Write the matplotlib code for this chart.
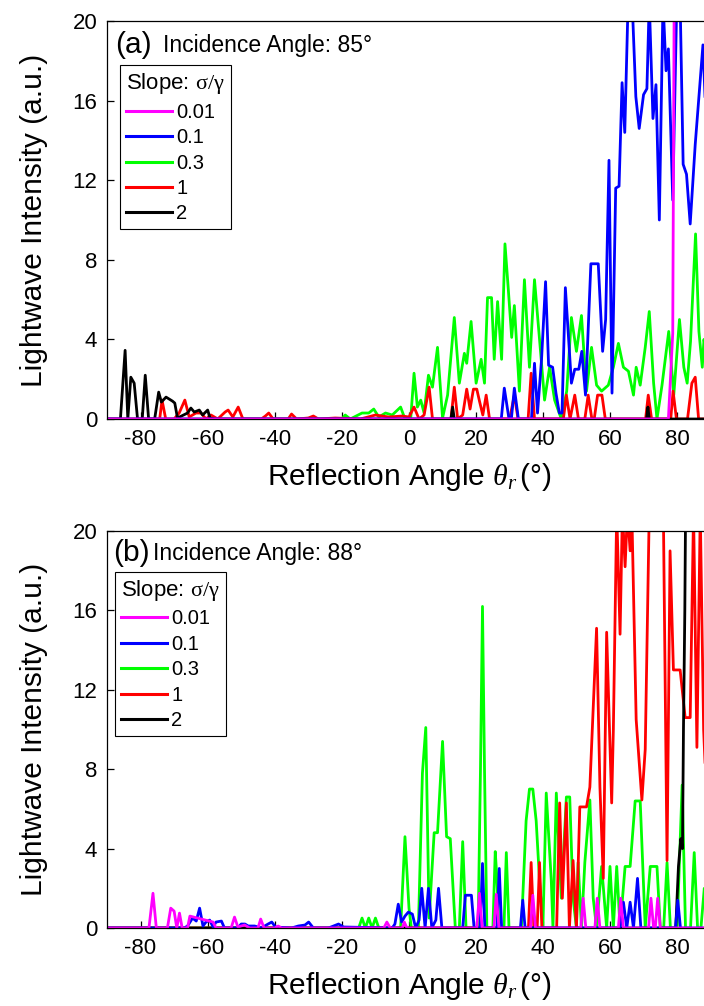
import matplotlib
matplotlib.use("Agg")
import matplotlib.pyplot as plt

plt.rcParams["font.family"] = ["Liberation Sans", "DejaVu Sans"]
plt.rcParams["mathtext.fontset"] = "custom"
plt.rcParams["mathtext.rm"] = "Liberation Serif"
plt.rcParams["mathtext.it"] = "Liberation Serif:italic"
plt.rcParams["axes.unicode_minus"] = False

SLOPES = ["0.01", "0.1", "0.3", "1", "2"]
COLORS = {"0.01": "#ff00ff", "0.1": "#0000ff", "0.3": "#00ff00", "1": "#ff0000", "2": "#000000"}
XTICKS = [-80, -60, -40, -20, 0, 20, 40, 60, 80]
YTICKS = [0, 4, 8, 12, 16, 20]

# ---- panel (a): incidence angle 85 deg ----
a_001_x = [-90, 77.3, 78.6, 80, 90]
a_001_y = [0, 0, 4.3, 60, 60]

a_01_x = [-90, 27.5, 28.4, 29.8, 30.5, 31.4, 32.6, 36.5, 37.4, 38.3, 39.5, 40.7, 41.6, 42.8,
          43.8, 44.8, 45.6, 46.6, 48.4, 49.4, 50.6, 51.5, 52.6, 54.2, 56.4, 57.7, 58.6, 59.6,
          60.5, 61.6, 62.6, 63.5, 64.3, 65.3, 66.5, 67.6, 68.6, 69.9, 70.9, 71.6, 72.7, 73.6,
          74.6, 75.7, 76.6, 77.3, 78.6, 79.8, 80.8, 81.7, 82.7, 83.8, 85.3, 87.6, 88.5, 90]
a_01_y = [0, 0, 1.55, 0, 0, 1.55, 0, 0, 2.8, 0.3, 3.0, 6.9, 2.7, 2.6,
          1.3, 0.3, 0.3, 6.6, 1.8, 2.5, 2.5, 3.4, 1.2, 7.8, 7.8, 3.4, 5.0, 13.0,
          1.3, 11.6, 11.7, 16.9, 14.4, 21, 21, 16.2, 14.6, 16.3, 16.6, 21, 15.1, 16.8,
          10.0, 21, 17.5, 18.6, 11.0, 21, 21, 12.8, 12.3, 9.8, 13.8, 18.8, 15, 12]

a_03_x = [-90, -20, -19, -17.5, -14, -12, -10.5, -9, -7, -5, -2.5, -1.2, 0.5, 1.5, 2.5, 3.5,
          4.5, 5.8, 7.0, 8.5, 10.0, 11.5, 13.5, 15.0, 16.5, 17.2, 18.5, 20, 21.5, 22.5, 23.4,
          24.6, 25.4, 26.4, 27.6, 28.6, 29.6, 30.6, 31.4, 32.9, 34.4, 35.9, 37.4, 38.9, 40.4,
          41.9, 43.4, 45.4, 47, 48.4, 49.9, 51.4, 52.9, 54.4, 55.9, 57.4, 59.4, 60.9, 62.4,
          63.9, 65.4, 66.9, 67.7, 68.9, 70.4, 71.6, 72.9, 73.9, 75.4, 77.4, 78.9, 80.6, 81.9,
          82.9, 83.9, 85.4, 86.4, 87.4, 87.9, 89, 90]
a_03_y = [0, 0, 0.2, 0, 0.3, 0.3, 0.5, 0.1, 0.3, 0.2, 0.6, 0, 0, 2.3, 0.6, 0.95,
          0.3, 2.2, 1.6, 3.6, 0.05, 1.2, 5.1, 1.8, 3.3, 2.8, 4.9, 1.8, 3.0, 1.8, 6.1,
          6.1, 3.0, 5.9, 3.0, 8.8, 6.5, 4.1, 5.7, 1.4, 7.0, 2.6, 7.0, 4.0, 0.95,
          2.6, 0.95, 0, 1.4, 5.1, 3.4, 5.2, 1.4, 3.6, 1.7, 1.4, 1.7, 2.6, 3.8,
          2.6, 2.4, 1.2, 2.6, 1.7, 3.6, 5.4, 1.8, 0, 1.7, 4.4, 1.2, 5.0, 2.6,
          1.8, 3.9, 9.3, 4.4, 2.6, 4.0, 2.8, 3.5]

a_1_x = [-90, -74.3, -73.6, -72.5, -70, -68.5, -66.8, -65.5, -63.5, -62, -60.5, -59, -57,
         -54.8, -53.9, -52.5, -50.9, -49.5, -44, -42.8, -41.8, -40.5, -36, -35, -33.5, -30,
         -28.5, -27, -22, -14.5, -10, -6, -2, 0, 1.5, 3, 4.5, 6, 7, 12.5, 13.5, 14.5, 16,
         17.2, 18.2, 19.2, 20.2, 21, 22, 23, 24, 30, 31.4, 32.5, 35.5, 36.4, 37.4, 46, 46.9,
         48, 49.4, 50.5, 52.4, 53.4, 54.5, 55.2, 56.2, 57.5, 58.5, 70.5, 71.3, 72.3, 78,
         78.7, 79.7, 83, 84.3, 85.3, 86.3, 90]
a_1_y = [0, 0, 0.95, 0, 0, 0.3, 0.95, 0.1, 0.3, 0.3, 0, 0.2, 0,
         0.35, 0.45, 0.1, 0.6, 0, 0, 0.15, 0.3, 0, 0, 0.25, 0, 0.05,
         0.15, 0, 0.05, 0, 0.2, 0.1, 0.15, 0.1, 0.6, 0, 0.2, 1.6, 0, 0, 1.6, 0, 0.2,
         1.5, 0.5, 1.5, 1.5, 0.9, 0.2, 1.2, 0, 0, 1.2, 0, 0, 2.3, 0, 0, 1.2,
         0, 1.2, 0, 0, 1.2, 0, 0, 1.2, 1.2, 0, 0, 1.2, 0, 0,
         1.4, 0, 0, 1.8, 2.1, 0, 0]

a_2_x = [-90, -86, -84.6, -83.8, -82.9, -81.9, -80.9, -79.5, -78.6, -77.6, -75.8, -74.6,
         -73.8, -72.4, -70.5, -69.8, -69.0, -66, -65, -64, -62.5, -61.5, -60, -59.3, -58,
         12.5, 13, 13.5, 70.8, 71.2, 71.6, 90]
a_2_y = [0, 0, 3.45, 0, 2.1, 1.8, 0, 0, 2.2, 0, 0, 1.35,
         0.85, 1.1, 0.9, 0.8, 0.05, 0.3, 0.55, 0.35, 0.45, 0.2, 0.45, 0.05, 0,
         0, 0.6, 0, 0, 0.6, 0, 0]

# ---- panel (b): incidence angle 88 deg ----
b_001_x = [-90, -77.5, -76.3, -75.3, -72, -71, -70, -69.2, -68.4, -67.6, -66, -65.3, -58.4,
           -57.5, -53, -52, -51, -49, -47.5, -45, -44.2, -43.2, -40, -39, -38, -7.5, -6.6,
           -5.6, -2, -1.4, -0.6, 20.2, 21, 21.8, 25.3, 26, 26.8, 36.2, 36.9, 37.7, 51.2, 51.9,
           52.7, 55.4, 56.1, 56.9, 62.4, 63.1, 63.9, 71.4, 72.1, 72.9, 73.4, 74.1, 74.9, 90]
b_001_y = [0, 0, 1.75, 0, 0, 1.0, 0.85, 0, 0.75, 0, 0, 0.6, 0.3,
           0, 0, 0.55, 0.05, 0.15, 0, 0, 0.45, 0, 0, 0.1, 0, 0, 0.3,
           0, 0, 0.3, 0, 0, 1.75, 0, 0, 1.7, 0, 0, 1.65, 0, 0, 1.5,
           0, 0, 1.5, 0, 0, 1.5, 0, 0, 1.5, 0, 0, 1.5, 0, 0]

b_01_x = [-90, -67, -66, -64.5, -63.4, -62.4, -61.4, -60.5, -59.4, -58.4, -57.5, -55.9, -55,
          -51, -50, -48.9, -47.9, -46, -44, -42, -40.9, -39.8, -35, -33, -31, -29.9, -28.5,
          -24, -22.5, -21, -19.5, -5, -4.2, -3.2, -2.2, -1.2, -0.2, 1, 2, 3.0, 3.8, 4.8, 5.8,
          6.8, 8.0, 8.8, 9.8, 16, 16.8, 18.6, 19.4, 21.2, 21.9, 22.6, 26.2, 26.9, 27.6, 33.2,
          33.9, 34.6, 62.9, 63.9, 64.9, 65.9, 66.9, 68.1, 69.1, 79.4, 80.1, 80.9, 90]
b_01_y = [0, 0, 0.1, 0.5, 0.35, 1.0, 0.1, 0.3, 0.4, 0.05, 0.3, 0.35, 0,
          0, 0.2, 0.2, 0.1, 0.1, 0, 0.2, 0.3, 0.05, 0, 0.1, 0.15, 0.3, 0,
          0, 0.1, 0.2, 0.05, 0, 0.2, 1.2, 0.3, 0.6, 0.8, 0.7, 0, 0.4, 2.0, 0, 2.0,
          0, 0.4, 2.0, 0, 0, 1.65, 1.65, 0, 0, 3.25, 0, 0, 3.0, 0, 0,
          1.4, 0, 0, 1.3, 0, 1.3, 0, 2.5, 0, 0, 1.4, 0, 0]

b_03_x = [-90, -15, -14, -13, -12, -11, -10, -9, -2.5, -1.2, 0, 0.7, 2.8, 4.0, 5.0, 6.0, 7.5,
          8.5, 10, 11.2, 12.3, 13.8, 15, 16, 17, 20.6, 21.3, 21.9, 22.5, 23.2, 25, 25.7, 26.2,
          26.8, 28.3, 29, 29.8, 33.5, 34.9, 35.9, 36.9, 37.9, 38.9, 39.9, 40.9, 42.4, 42.9,
          43.9, 45.4, 46.9, 47.9, 48.9, 49.9, 50.4, 51.4, 52.4, 53.9, 54.9, 55.9, 57.4, 58.9,
          59.9, 60.9, 61.9, 62.9, 64.4, 65.9, 67.4, 68.9, 70.4, 71.9, 73.9, 74.9, 75.9, 76.9,
          77.9, 79.9, 81.4, 82.4, 83.9, 85, 86, 87, 88, 90]
b_03_y = [0, 0, 0.5, 0, 0.5, 0, 0.5, 0, 0, 4.6, 1.0, 0, 0, 7.8, 10.1, 0.5, 4.8,
          4.8, 9.4, 4.6, 4.5, 0, 0, 4.35, 0, 0, 8, 16.2, 8, 0, 0, 3.85, 2.5,
          0, 0, 3.8, 0, 0, 5.4, 7.0, 7.0, 5.4, 2.4, 0, 6.8, 2.4, 0,
          6.8, 1.5, 6.6, 6.6, 1.5, 0, 3.3, 0, 3.3, 6.45, 1.5, 0, 3.1, 0,
          3.1, 0, 3.1, 0, 3.1, 3.1, 6.4, 6.4, 0, 3.1, 3.1, 0, 0, 3.3,
          0, 0, 7.2, 0, 0, 3.8, 0, 0, 2, 0]

b_1_x = [-90, 35.6, 36.4, 37.2, 38.2, 38.9, 39.6, 44, 44.9, 45.7, 46.9, 47.8, 48.9, 49.9,
         50.9, 52.9, 53.9, 55.9, 56.9, 57.9, 58.9, 60.4, 60.9, 61.9, 62.9, 63.6, 64.4, 65.1,
         65.9, 66.4, 67.7, 69.4, 70.4, 71.6, 72.4, 73.4, 75.8, 76.9, 77.8, 78.8, 80.8, 82.3,
         83.8, 84.8, 85.8, 86.8, 87.8, 88.8, 90]
b_1_y = [0, 0, 3.3, 0, 0, 3.3, 0, 0, 6.3, 1.5, 6.3, 0, 3.4, 0,
         6.1, 6.1, 7.1, 15.1, 7.1, 2.5, 14.9, 6.3, 10, 21, 14.8, 21, 18.2, 21,
         19, 21, 10.5, 6.45, 9, 21, 21, 21, 21, 3.4, 19, 13, 13, 10.6,
         10.6, 21, 9.1, 21, 10, 6, 15]

b_2_x = [-90, 79.5, 80.3, 81.0, 81.5, 81.8, 82.2, 82.6, 90]
b_2_y = [0, 0, 3.1, 4.5, 4.0, 10.1, 16, 25, 25]

PANELS = [
    {"tag": "(a)", "inc": "Incidence Angle: 85\u00b0",
     "series": {"0.01": (a_001_x, a_001_y), "0.1": (a_01_x, a_01_y), "0.3": (a_03_x, a_03_y),
                "1": (a_1_x, a_1_y), "2": (a_2_x, a_2_y)}},
    {"tag": "(b)", "inc": "Incidence Angle: 88\u00b0",
     "series": {"0.01": (b_001_x, b_001_y), "0.1": (b_01_x, b_01_y), "0.3": (b_03_x, b_03_y),
                "1": (b_1_x, b_1_y), "2": (b_2_x, b_2_y)}},
]

# draw order: back to front
DRAW_ORDER = ["0.3", "1", "2", "0.1", "0.01"]

fig = plt.figure(figsize=(7.04, 10.06), dpi=100)
axes_pos = [
    [107 / 704, 587 / 1006, 604 / 704, 398 / 1006],
    [107 / 704, 78 / 1006, 604 / 704, 397 / 1006],
]
tag_pos = [(0.013, 0.94, 0.093), (0.010, 0.945, 0.076)]
leg_anchor = [(0.0215, 0.889), (0.013, 0.897)]

for panel, pos, tp, la in zip(PANELS, axes_pos, tag_pos, leg_anchor):
    ax = fig.add_axes(pos)
    handles = {}
    for key in DRAW_ORDER:
        xs, ys = panel["series"][key]
        (ln,) = ax.plot(xs, ys, color=COLORS[key], lw=2.0, label=key)
        handles[key] = ln

    ax.set_xlim(-90, 90)
    ax.set_ylim(0, 20)
    ax.set_xticks(XTICKS)
    ax.set_yticks(YTICKS)
    ax.tick_params(direction="in", length=5, width=0.9, labelsize=16, pad=7)
    for sp in ax.spines.values():
        sp.set_linewidth(0.9)

    ax.set_ylabel("Lightwave Intensity (a.u.)", fontsize=21.5)
    ax.yaxis.set_label_coords(-0.097, 0.5)
    ax.set_xlabel("Reflection Angle $\\theta_r\\,$(\u00b0)", fontsize=21.5)
    ax.xaxis.set_label_coords(0.5, -0.105)

    ax.text(tp[0], tp[1], panel["tag"], transform=ax.transAxes, fontsize=21.5, va="center", ha="left")
    ax.text(tp[2], tp[1] - 0.002, panel["inc"], transform=ax.transAxes, fontsize=16.5, va="center", ha="left")

    leg = ax.legend(handles=[handles[k] for k in SLOPES], title=r"Slope: $\mathrm{\sigma/\gamma}$",
                    loc="upper left", bbox_to_anchor=la, borderaxespad=0, fontsize=14.5,
                    title_fontsize=16, handlelength=2.3, handletextpad=0.2, labelspacing=0.32,
                    borderpad=0.3, fancybox=False, edgecolor="black", framealpha=1,
                    alignment="left")
    leg.get_frame().set_linewidth(0.8)
    for h in leg.legend_handles:
        h.set_linewidth(2.2)

fig.savefig("out.png", dpi=100)
